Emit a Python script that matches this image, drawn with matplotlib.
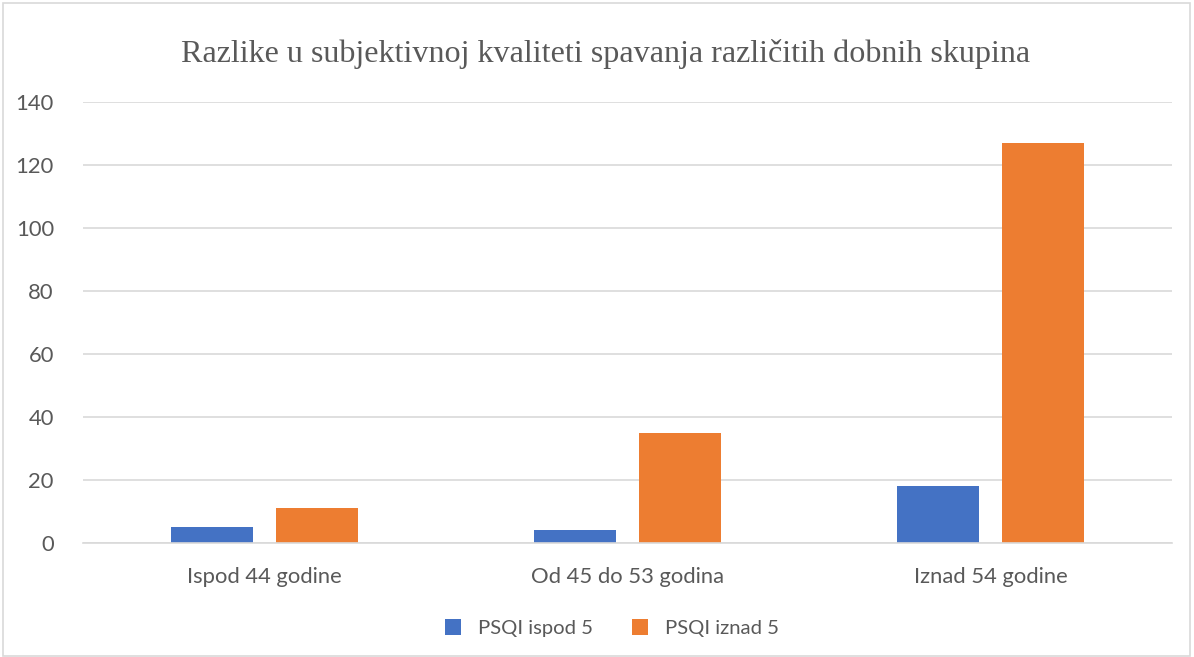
import matplotlib
matplotlib.use("Agg")
import matplotlib.pyplot as plt
import numpy as np
from matplotlib.patches import Rectangle

categories = ["Ispod 44 godine", "Od 45 do 53 godina", "Iznad 54 godine"]
series_names = ["PSQI ispod 5", "PSQI iznad 5"]
psqi_ispod = [5, 4, 18]
psqi_iznad = [11, 35, 127]
yticks = [0, 20, 40, 60, 80, 100, 120, 140]
title = "Razlike u subjektivnoj kvaliteti spavanja različitih dobnih skupina"

blue = "#4472C4"
orange = "#ED7D31"
txt = "#595959"
grid = "#D9D9D9"

W, H = 1194, 657
fig = plt.figure(figsize=(W / 100, H / 100), dpi=100)
fig.patches.append(Rectangle((3 / W, 1 / H), (W - 7) / W, (H - 4) / H, transform=fig.transFigure,
                             fill=False, edgecolor="#D9D9D9", linewidth=1.2))

ax = fig.add_axes([83 / W, (H - 543) / H, (1172 - 83) / W, (543 - 102) / H])
x = np.arange(len(categories))
bw = 0.226
off = 0.144
ax.bar(x - off, psqi_ispod, bw, color=blue, label=series_names[0], zorder=3)
ax.bar(x + off, psqi_iznad, bw, color=orange, label=series_names[1], zorder=3)

ax.set_xlim(-0.5, len(categories) - 0.5)
ax.set_ylim(0, 140)
ax.set_yticks(yticks)
ax.set_xticks(x)
ax.set_xticklabels(categories)
ax.yaxis.grid(True, color=grid, linewidth=1.2, zorder=0)
ax.set_axisbelow(True)
for s in ["top", "right", "left"]:
    ax.spines[s].set_visible(False)
ax.spines["bottom"].set_color(grid)
ax.spines["bottom"].set_linewidth(1.2)
ax.spines["bottom"].set_zorder(4)
ax.tick_params(axis="both", length=0, labelcolor=txt, labelsize=15.8)
ax.tick_params(axis="y", pad=21)
ax.tick_params(axis="x", pad=17)
for lab in ax.get_xticklabels() + ax.get_yticklabels():
    lab.set_family(["Lato", "DejaVu Sans"])

fig.text(606 / W, (H - 54) / H, title, ha="center", va="center", fontsize=23.1,
         family=["Liberation Serif", "DejaVu Serif"], color=txt)

leg = fig.legend(loc="center", bbox_to_anchor=(612 / W, (H - 628) / H), ncol=2, frameon=False,
                 handlelength=0.8, handleheight=0.8, handletextpad=0.85, columnspacing=1.9,
                 prop={"family": ["Lato", "DejaVu Sans"], "size": 14.6})
for t in leg.get_texts():
    t.set_color(txt)

fig.savefig("out.png", dpi=100)
